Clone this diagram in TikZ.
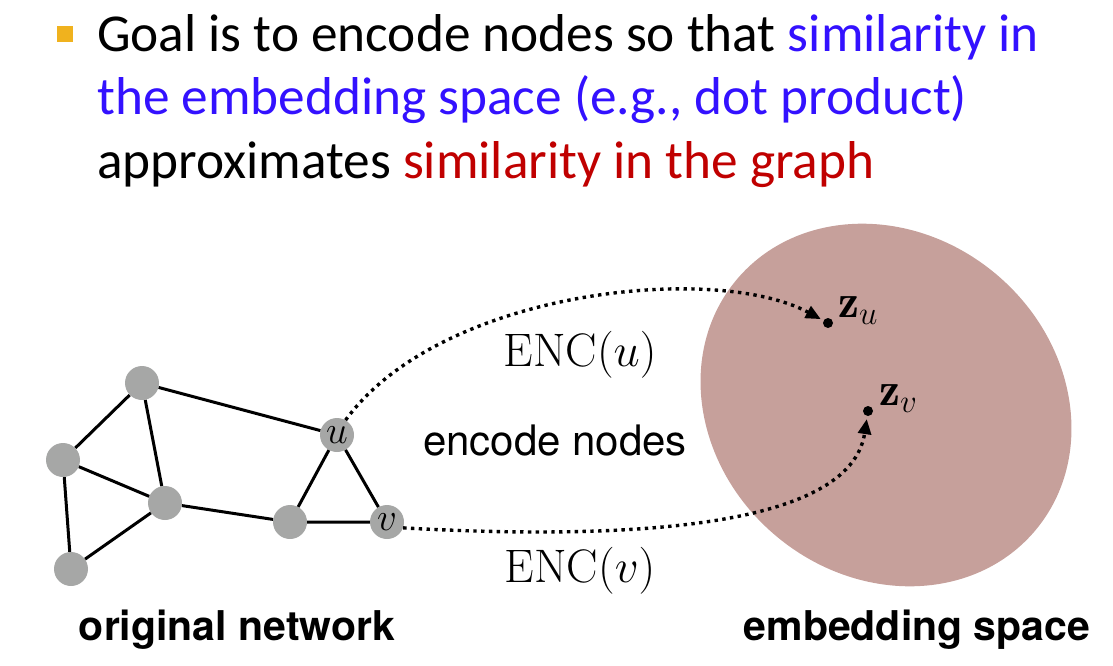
\RequirePackage{fix-cm}
\documentclass[tikz,border=0pt]{standalone}
\usepackage{fontspec}
\newfontfamily\calibrifont{Carlito}
\newfontfamily\herosfont{TeX Gyre Heros}
\usetikzlibrary{arrows.meta}

\definecolor{nodegray}{RGB}{166,167,166}
\definecolor{spacebrown}{RGB}{198,160,155}
\definecolor{bulletgold}{RGB}{240,178,30}
\definecolor{simblue}{RGB}{51,17,255}
\definecolor{simred}{RGB}{192,0,0}

\tikzset{
    headline/.style={anchor=base west, inner sep=0pt, font=\calibrifont\fontsize{53.3}{63}\selectfont},
    vertex/.style={circle, fill=nodegray, minimum size=34pt, inner sep=0pt, font=\fontsize{39}{39}\selectfont},
    edge/.style={line width=3pt},
    encarrow/.style={line width=3.4pt, dash pattern=on 3.4pt off 4.4pt, shorten >=3pt,
        -{Triangle[length=15pt,width=13pt]}},
    point/.style={circle, fill=black, minimum size=10pt, inner sep=0pt},
    mathlabel/.style={anchor=base, inner sep=0pt, font=\fontsize{47}{47}\selectfont},
    caption/.style={anchor=base, inner sep=0pt, font=\herosfont\bfseries\fontsize{41}{41}\selectfont},
}

\begin{document}
\begin{tikzpicture}[x=1pt, y=-1pt]
    \useasboundingbox (0,0) rectangle (1113,666);

    % Bullet and headline
    \fill[bulletgold] (57,26) rectangle (73,42);
    \node[headline] (line1) at (97,52) {Goal is to encode nodes so that \textcolor{simblue}{similarity in}};
    \node[headline] (line2) at (97,115) {\textcolor{simblue}{the embedding space (e.g., dot product)}};
    \node[headline] (line3) at (97,178) {approximates \textcolor{simred}{similarity in the graph}};

    % Embedding space
    \fill[spacebrown, rotate around={-40:(886,405)}] (886,405) ellipse [x radius=195, y radius=171];
    \node[point] (zu) at (828,323) {};
    \node[point] (zv) at (868,411) {};
    \node[mathlabel, anchor=base west] (zulabel) at (838,317) {$\mathbf{z}_u$};
    \node[mathlabel, anchor=base west] (zvlabel) at (879,405) {$\mathbf{z}_v$};

    % Original network
    \node[vertex] (n1) at (142,383) {};
    \node[vertex] (n2) at (63,460) {};
    \node[vertex] (n3) at (165,503) {};
    \node[vertex] (n4) at (71,569) {};
    \node[vertex] (n5) at (290,522) {};
    \node[vertex] (u) at (337,435) {$u$};
    \node[vertex] (v) at (387,522) {$v$};
    \draw[edge] (n1) -- (n2) (n1) -- (n3) (n1) -- (u)
        (n2) -- (n3) (n2) -- (n4) (n3) -- (n4) (n3) -- (n5)
        (n5) -- (u) (n5) -- (v) (u) -- (v);

    % Encoder arrows
    \draw[encarrow] (u.60) .. controls (440,290) and (715,262) .. (zu);
    \draw[encarrow] (v.-20) .. controls (620,540) and (850,530) .. (zv);

    % Labels
    \node[mathlabel] (encu) at (580,366) {$\mathrm{ENC}(u)$};
    \node[mathlabel] (encv) at (580,582) {$\mathrm{ENC}(v)$};
    \node[anchor=base, inner sep=0pt, font=\herosfont\fontsize{42}{42}\selectfont] (enclabel) at (555,455) {encode nodes};
    \node[caption] (orig) at (237,640) {original network};
    \node[caption] (emb) at (917,640) {embedding space};
\end{tikzpicture}
\end{document}
